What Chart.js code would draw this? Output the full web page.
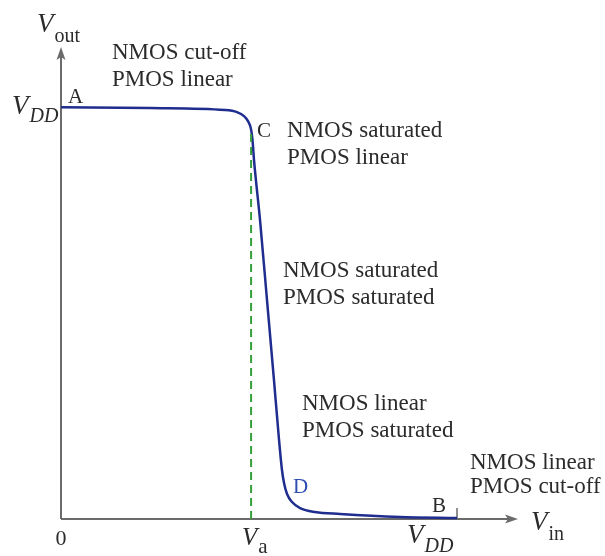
<!DOCTYPE html>
<html>
<head>
<meta charset="utf-8">
<title>CMOS inverter transfer curve</title>
<script src="https://cdn.jsdelivr.net/npm/chart.js@4/dist/chart.umd.min.js"></script>
<style>
    html, body { margin: 0; padding: 0; background: #fff; }
    #vtc { display: block; }
    .fontprobe { position: absolute; left: -999px; top: 0; font-family: "Liberation Serif"; }
</style>
</head>
<body>
<canvas id="vtc" width="605" height="556"></canvas>
<span class="fontprobe">NMOS <i>V</i></span>
<script>
// supply voltage and switching point (same units on both axes)
const VDD = 5;
const VA = 2.4;

// transfer curve Vout(Vin)
const vin  = [0, 1.124, 2.071, 2.222, 2.311, 2.361, 2.399, 2.418, 2.437, 2.513, 2.601, 2.689, 2.753, 2.790, 2.816, 2.854, 2.917, 3.018, 3.207, 3.523, 4.280, 5.0];
const vout = [5.0, 4.988, 4.964, 4.939, 4.891, 4.830, 4.733, 4.600, 4.357, 3.629, 2.658, 1.687, 0.959, 0.595, 0.437, 0.303, 0.206, 0.133, 0.085, 0.061, 0.024, 0.012];

// dashed line from the x axis up to the curve at Va
const dashX = [VA, VA];
const dashY = [0, 4.70];

// x axis tick values and their labels [main, subscript]
const tickValues = [0, VA, VDD];
const tickLabels = [['0', ''], ['V', 'a'], ['V', 'DD']];

// operating region notes, two lines each
const regionText = [
    ['NMOS cut-off', 'PMOS linear'],
    ['NMOS saturated', 'PMOS linear'],
    ['NMOS saturated', 'PMOS saturated'],
    ['NMOS linear', 'PMOS saturated'],
    ['NMOS linear', 'PMOS cut-off']
];
// where each note starts (data units: Vin, Vout of first baseline)
const regionAt = [[0.644, 5.583], [2.854, 4.636], [2.803, 2.937], [3.043, 1.323], [5.164, 0.61]];

// corner points of the curve
const pointNames = ['A', 'C', 'D', 'B'];
const pointAt = [[0.088, 5.05], [2.475, 4.636], [2.929, 0.316], [4.684, 0.085]];

const SERIF = '"Liberation Serif", "Times New Roman", "DejaVu Serif", serif';
const TEXT = '#2b2b2b';
const AXIS = '#6b6b6b';
const CURVE = '#1f2d8f';

function toPoints(xs, ys) {
    return xs.map((x, i) => ({ x: x, y: ys[i] }));
}

// big italic V with a smaller subscript, left edge at x, baseline at y
function vLabel(ctx, x, y, main, sub, subItalic, mainSize, subSize, drop) {
    ctx.fillStyle = TEXT;
    ctx.textAlign = 'left';
    ctx.textBaseline = 'alphabetic';
    ctx.font = 'italic ' + mainSize + 'px ' + SERIF;
    ctx.fillText(main, x, y);
    let w = ctx.measureText(main).width;
    if (sub) {
        ctx.font = (subItalic ? 'italic ' : '') + subSize + 'px ' + SERIF;
        ctx.fillText(sub, x + w + 1, y + drop);
        w += 1 + ctx.measureText(sub).width;
    }
    return w;
}

function arrowHead(ctx, x, y, dir) {
    // dir: 'up' or 'right'
    ctx.beginPath();
    if (dir == 'up') {
        ctx.moveTo(x, y);
        ctx.lineTo(x - 4.5, y + 13);
        ctx.lineTo(x, y + 10);
        ctx.lineTo(x + 4.5, y + 13);
    } else {
        ctx.moveTo(x, y);
        ctx.lineTo(x - 13, y - 4.5);
        ctx.lineTo(x - 10, y);
        ctx.lineTo(x - 13, y + 4.5);
    }
    ctx.closePath();
    ctx.fill();
}

const axesPlugin = {
    id: 'vtcAxes',
    beforeDatasetsDraw(chart) {
        const ctx = chart.ctx;
        const xs = chart.scales.x;
        const ys = chart.scales.y;
        const x0 = xs.getPixelForValue(0);
        const y0 = ys.getPixelForValue(0);
        const xEnd = xs.right;
        const yEnd = ys.top;

        ctx.save();
        ctx.strokeStyle = AXIS;
        ctx.fillStyle = AXIS;
        ctx.lineWidth = 2;
        ctx.beginPath();
        ctx.moveTo(x0, y0);
        ctx.lineTo(x0, yEnd + 6);
        ctx.moveTo(x0, y0);
        ctx.lineTo(xEnd - 6, y0);
        ctx.stroke();
        arrowHead(ctx, x0, yEnd, 'up');
        arrowHead(ctx, xEnd, y0, 'right');

        // small tick at VDD on the x axis
        const xd = xs.getPixelForValue(VDD);
        ctx.lineWidth = 1.5;
        ctx.beginPath();
        ctx.moveTo(xd, y0);
        ctx.lineTo(xd, y0 - 11);
        ctx.stroke();
        ctx.restore();
    },
    afterDatasetsDraw(chart) {
        const ctx = chart.ctx;
        const xs = chart.scales.x;
        const ys = chart.scales.y;
        const x0 = xs.getPixelForValue(0);
        const y0 = ys.getPixelForValue(0);

        ctx.save();

        // axis titles
        vLabel(ctx, x0 - 24, ys.top - 15, 'V', 'out', false, 27, 20, 10);
        vLabel(ctx, xs.right + 13, y0 + 11, 'V', 'in', false, 27, 20, 10);

        // VDD on the y axis
        const yd = ys.getPixelForValue(VDD);
        vLabel(ctx, x0 - 49, yd + 7, 'V', 'DD', true, 27, 20, 8);

        // x axis tick labels
        tickValues.forEach((v, i) => {
            const px = xs.getPixelForValue(v);
            const lab = tickLabels[i];
            if (lab[1] == '') {
                ctx.fillStyle = TEXT;
                ctx.font = '22px ' + SERIF;
                ctx.textAlign = 'center';
                ctx.fillText(lab[0], px, y0 + 26);
            } else if (lab[1] == 'a') {
                vLabel(ctx, px - 9, y0 + 26, lab[0], lab[1], false, 25, 21, 8);
            } else {
                vLabel(ctx, px - 50, y0 + 24, lab[0], lab[1], true, 27, 20, 9);
            }
        });

        // region notes
        ctx.fillStyle = TEXT;
        ctx.font = '23px ' + SERIF;
        ctx.textAlign = 'left';
        regionText.forEach((lines, i) => {
            const px = xs.getPixelForValue(regionAt[i][0]);
            const py = ys.getPixelForValue(regionAt[i][1]);
            const gap = (i == 4) ? 24 : 26.5;
            ctx.fillText(lines[0], px, py);
            ctx.fillText(lines[1], px, py + gap);
        });

        // point names
        ctx.font = '21px ' + SERIF;
        pointNames.forEach((name, i) => {
            ctx.fillStyle = (name == 'D') ? '#2f4fb0' : TEXT;
            ctx.fillText(name, xs.getPixelForValue(pointAt[i][0]), ys.getPixelForValue(pointAt[i][1]));
        });

        ctx.restore();
    }
};

function drawChart() {
    new Chart(document.getElementById('vtc'), {
        type: 'scatter',
        data: {
            datasets: [
                {
                    data: toPoints(dashX, dashY),
                    showLine: true,
                    borderColor: '#35a03a',
                    borderWidth: 2,
                    borderDash: [8, 5],
                    pointRadius: 0,
                    clip: false
                },
                {
                    data: toPoints(vin, vout),
                    showLine: true,
                    borderColor: CURVE,
                    borderWidth: 2.5,
                    cubicInterpolationMode: 'monotone',
                    pointRadius: 0,
                    clip: false
                }
            ]
        },
        options: {
            responsive: false,
            animation: false,
            events: [],
            layout: { padding: { left: 61, right: 87, top: 47, bottom: 37 } },
            scales: {
                x: { type: 'linear', min: 0, max: 5.77, display: false },
                y: { type: 'linear', min: 0, max: 5.73, display: false }
            },
            plugins: {
                legend: { display: false },
                tooltip: { enabled: false }
            }
        },
        plugins: [axesPlugin]
    });
}

// make sure the serif face is ready before the canvas text is drawn
Promise.all([
    document.fonts.load('23px "Liberation Serif"'),
    document.fonts.load('italic 27px "Liberation Serif"')
]).then(drawChart, drawChart);
</script>
</body>
</html>
